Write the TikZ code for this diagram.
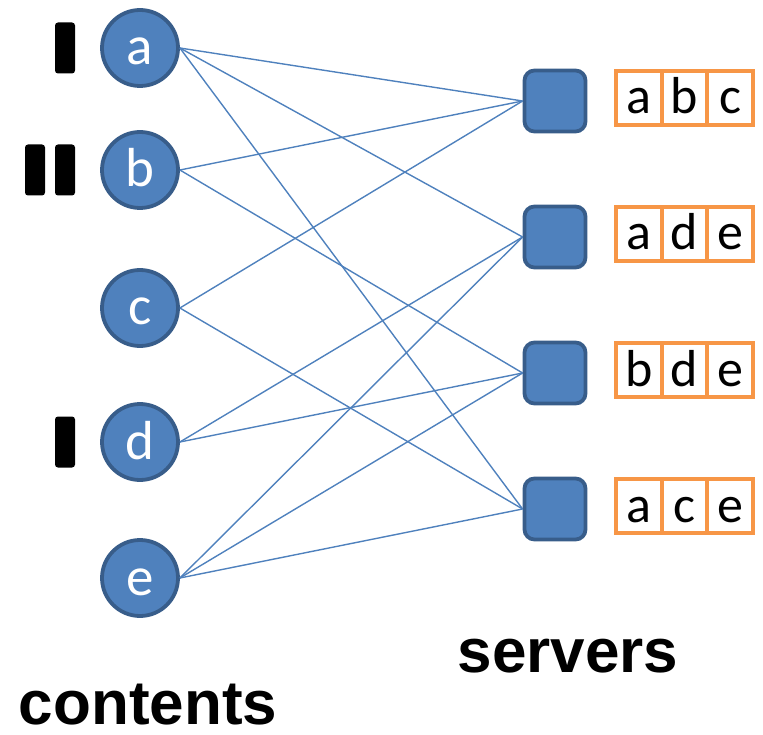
\documentclass[tikz,border=0pt]{standalone}
\usepackage{fontspec}
\setmainfont{Carlito}
\newfontfamily\labelfont{Liberation Sans}
\definecolor{nodefill}{HTML}{4F81BD}
\definecolor{nodeline}{HTML}{385D8A}
\definecolor{cacheline}{HTML}{F79646}
\begin{document}
\begin{tikzpicture}[x=1pt,y=-1pt,
  content/.style={circle,draw=nodeline,fill=nodefill,line width=3.8pt,
    minimum size=76pt,inner sep=0pt,text=white,
    text height=38pt,text depth=4pt,
    font=\fontsize{55}{55}\selectfont},
  server/.style={rectangle,rounded corners=10pt,draw=nodeline,fill=nodefill,
    line width=3.8pt,minimum size=61pt,inner sep=0pt},
  cell/.style={rectangle,draw=cacheline,line width=3.8pt,fill=white,
    minimum width=45.7pt,minimum height=54pt,inner sep=0pt,
    text height=36pt,text depth=4pt,
    font=\fontsize{52}{52}\selectfont},
  bar/.style={rectangle,rounded corners=3pt,fill=black,
    minimum width=20pt,minimum height=51pt,inner sep=0pt},
  link/.style={draw=nodefill,line width=1.4pt},
  caption/.style={font=\labelfont\bfseries\fontsize{62}{62}\selectfont,
    inner sep=0pt,text depth=0pt,anchor=base}]
\useasboundingbox (0,0) rectangle (763,735);

% contents
\node[content] (a) at (140,48) {a};
\node[content] (b) at (140,170) {b};
\node[content] (c) at (140,308) {c};
\node[content] (d) at (140,442) {d};
\node[content] (e) at (140,578) {e};

% request bars
\node[bar] (ra)  at (65,48) {};
\node[bar] (rb1) at (35,170) {};
\node[bar] (rb2) at (65,170) {};
\node[bar] (rd)  at (65,442) {};

% servers
\node[server] (s1) at (555,101) {};
\node[server] (s2) at (555,237) {};
\node[server] (s3) at (555,373) {};
\node[server] (s4) at (555,509) {};

% cache contents of each server
\foreach \row/\y/\p/\q/\r in {1/98/a/b/c, 2/234/a/d/e, 3/370/b/d/e, 4/506/a/c/e}{
  \node[cell] (k\row a) at (638.8,\y) {\p};
  \node[cell] (k\row b) at (684.5,\y) {\q};
  \node[cell] (k\row c) at (730.2,\y) {\r};
}

% placement links
\foreach \u/\v in {a/s1,a/s2,a/s4,b/s1,b/s3,c/s1,c/s4,d/s2,d/s3,e/s2,e/s3,e/s4}{
  \draw[link] (\u.east) -- (\v.west);
}

% captions
\node[caption] (srvlabel) at (568,672) {servers};
\node[caption] (cntlabel) at (148,724) {contents};
\end{tikzpicture}
\end{document}
